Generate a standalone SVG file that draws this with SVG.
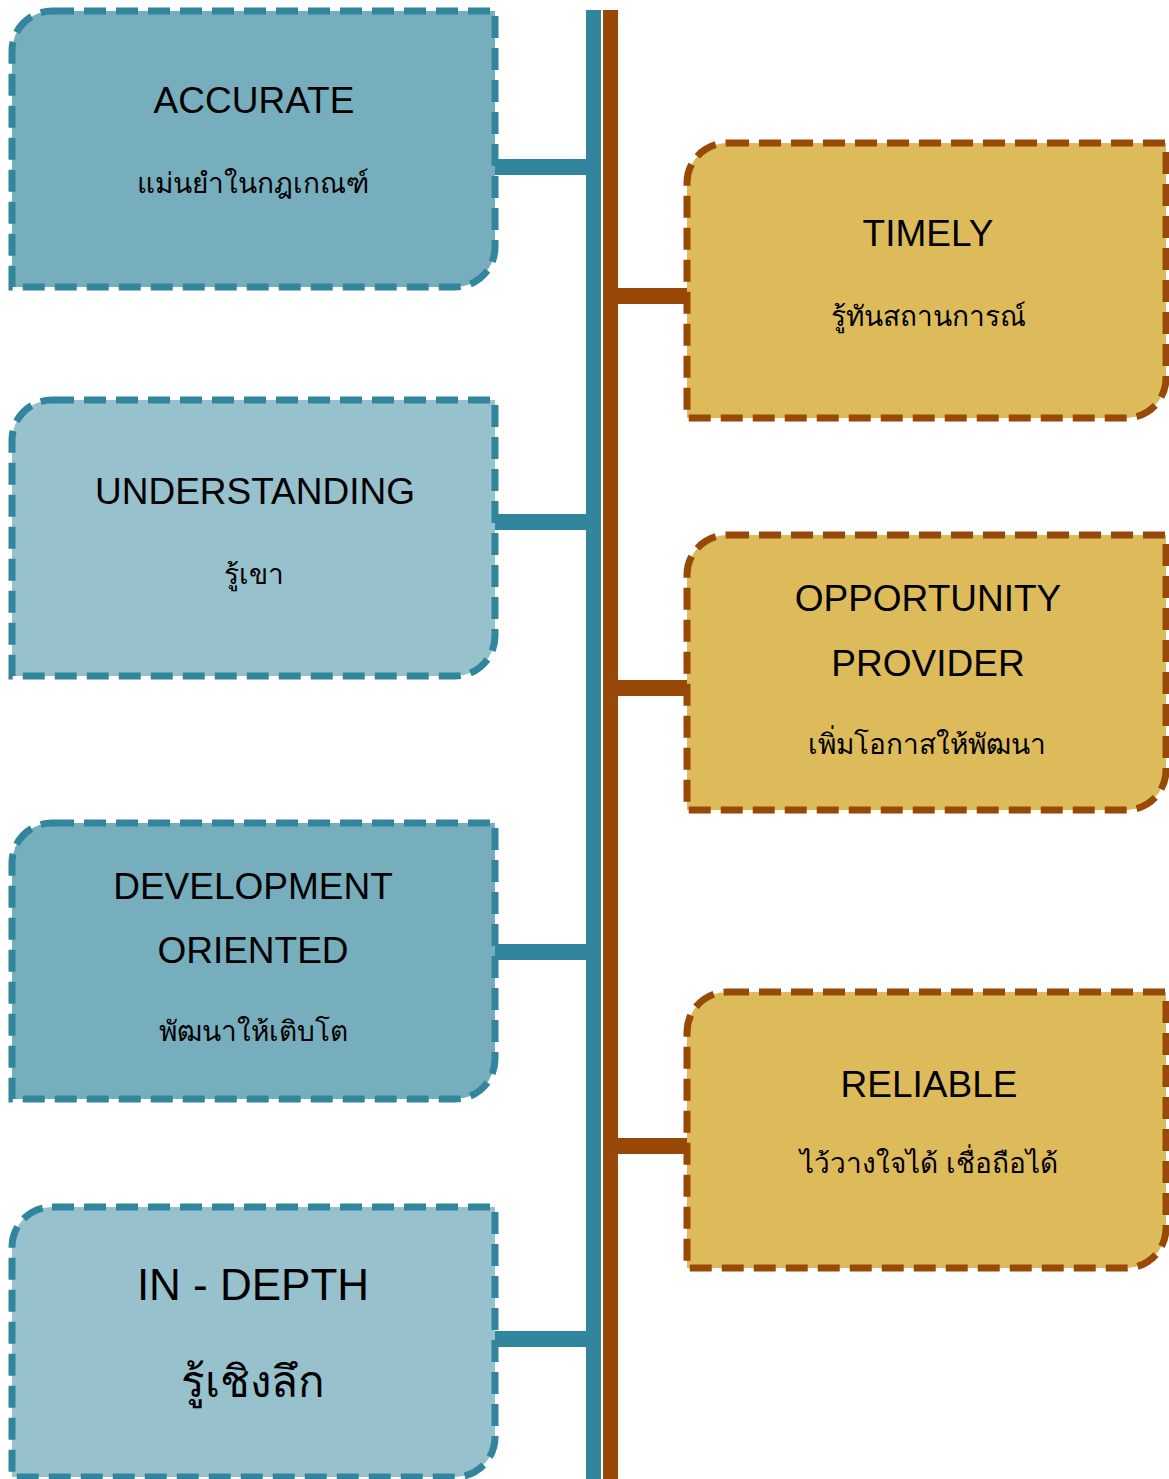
<svg xmlns="http://www.w3.org/2000/svg" width="1169" height="1479" viewBox="0 0 1169 1479">
<style>
.tb{stroke:#31859C;stroke-width:7;stroke-dasharray:22 10}
.bb{stroke:#984807;stroke-width:7;stroke-dasharray:22 10}
.dk{fill:#77AEBD}
.lt{fill:#98C1CE}
.gd{fill:#DDBB5A}
.en{font-family:"Liberation Sans","DejaVu Sans",sans-serif;font-size:37px;fill:#000;text-anchor:middle}
.th{font-family:"Noto Sans","DejaVu Sans",sans-serif;font-size:28px;fill:#000;text-anchor:middle}
.big{font-size:44px}
.tc{stroke:#31859C;stroke-width:16;fill:none}
.bc{stroke:#984807;stroke-width:16;fill:none}
</style>
<rect width="1169" height="1479" fill="#fff"/>
<g id="connectors">
<line class="tc" x1="593.5" y1="10" x2="593.5" y2="1479" style="stroke-width:15"/>
<line class="bc" x1="610.5" y1="10" x2="610.5" y2="1479" style="stroke-width:15"/>
<line class="tc" x1="492" y1="167" x2="587" y2="167"/>
<line class="tc" x1="492" y1="522" x2="587" y2="522"/>
<line class="tc" x1="492" y1="952" x2="587" y2="952"/>
<line class="tc" x1="492" y1="1339" x2="587" y2="1339"/>
<line class="bc" x1="617" y1="296" x2="690" y2="296"/>
<line class="bc" x1="617" y1="688" x2="690" y2="688"/>
<line class="bc" x1="617" y1="1146" x2="690" y2="1146"/>
</g>
<g id="accurate">
<path class="dk tb" d="M52,11 H495 V247 A40,40 0 0 1 455,287 H12 V51 A40,40 0 0 1 52,11 Z"/>
<text class="en" x="254" y="113">ACCURATE</text>
<text class="th" x="253" y="193">แม่นยำในกฎเกณฑ์</text>
</g>
<g id="understanding">
<path class="lt tb" d="M52,400 H495 V636 A40,40 0 0 1 455,676 H12 V440 A40,40 0 0 1 52,400 Z"/>
<text class="en" x="255" y="504">UNDERSTANDING</text>
<text class="th" x="254" y="584">รู้เขา</text>
</g>
<g id="development">
<path class="dk tb" d="M52,823 H495 V1059 A40,40 0 0 1 455,1099 H12 V863 A40,40 0 0 1 52,823 Z"/>
<text class="en" x="253" y="899">DEVELOPMENT</text>
<text class="en" x="253" y="963">ORIENTED</text>
<text class="th" x="253" y="1041">พัฒนาให้เติบโต</text>
</g>
<g id="indepth">
<path class="lt tb" d="M52,1207 H495 V1437 A40,40 0 0 1 455,1477 H12 V1247 A40,40 0 0 1 52,1207 Z"/>
<text class="en big" x="253" y="1300">IN - DEPTH</text>
<text class="th big" x="253" y="1397">รู้เชิงลึก</text>
</g>
<g id="timely">
<path class="gd bb" d="M727,143 H1166 V378 A40,40 0 0 1 1126,418 H687 V183 A40,40 0 0 1 727,143 Z"/>
<text class="en" x="928" y="246">TIMELY</text>
<text class="th" x="928" y="326">รู้ทันสถานการณ์</text>
</g>
<g id="opportunity">
<path class="gd bb" d="M727,535 H1166 V770 A40,40 0 0 1 1126,810 H687 V575 A40,40 0 0 1 727,535 Z"/>
<text class="en" x="928" y="611">OPPORTUNITY</text>
<text class="en" x="928" y="676">PROVIDER</text>
<text class="th" x="927" y="754">เพิ่มโอกาสให้พัฒนา</text>
</g>
<g id="reliable">
<path class="gd bb" d="M727,992 H1166 V1228 A40,40 0 0 1 1126,1268 H687 V1032 A40,40 0 0 1 727,992 Z"/>
<text class="en" x="929" y="1097">RELIABLE</text>
<text class="th" x="929" y="1173">ไว้วางใจได้ เชื่อถือได้</text>
</g>
</svg>
